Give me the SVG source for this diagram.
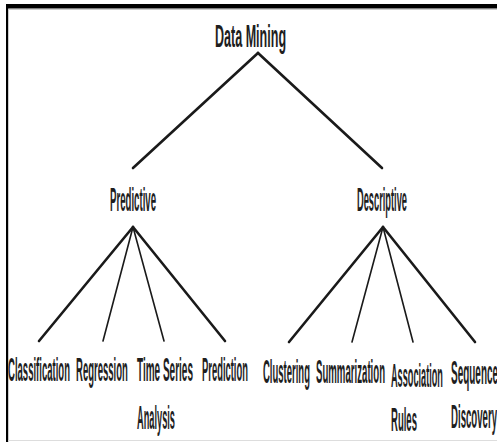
<svg xmlns="http://www.w3.org/2000/svg" width="497" height="442" viewBox="0 0 497 442">
<style>
text{font-family:"Liberation Sans",Arial,sans-serif;font-size:33px;font-weight:bold;fill:#1e1e1e}
#data-mining text{font-size:32px}
.e{stroke:#1a1a1a;fill:none;stroke-linecap:round}
.t{stroke-width:2.6}
.n{stroke-width:1.6}
</style>
<rect x="0" y="0" width="497" height="442" fill="#ffffff"/>
<g id="frame">
<rect x="6" y="4" width="491" height="4.5" fill="#000"/>
<rect x="6" y="4" width="2.2" height="438" fill="#000"/>
<line x1="8" y1="9.5" x2="497" y2="9.5" stroke="#cccccc" stroke-width="1"/>
<line x1="8" y1="440.5" x2="497" y2="440.5" stroke="#dddddd" stroke-width="1"/>
</g>
<g id="connectors">
<line class="e t" x1="258" y1="53" x2="133" y2="168"/>
<line class="e t" x1="258" y1="53" x2="382" y2="168"/>
<line class="e t" x1="133" y1="227" x2="39" y2="341"/>
<line class="e n" x1="133" y1="227" x2="103" y2="341"/>
<line class="e n" x1="133" y1="227" x2="164" y2="341"/>
<line class="e t" x1="133" y1="227" x2="225" y2="341"/>
<line class="e t" x1="383" y1="227" x2="289" y2="342"/>
<line class="e n" x1="383" y1="227" x2="352" y2="342"/>
<line class="e n" x1="383" y1="227" x2="413" y2="342"/>
<line class="e t" x1="383" y1="227" x2="475" y2="342"/>
</g>
<g id="data-mining"><text transform="translate(215,47) scale(0.392,1)">Data Mining</text></g>
<g id="predictive"><text transform="translate(110,211) scale(0.292,1)">Predictive</text></g>
<g id="descriptive"><text transform="translate(357,211) scale(0.281,1)">Descriptive</text></g>
<g id="classification"><text transform="translate(8,381) scale(0.289,1)">Classification</text></g>
<g id="regression"><text transform="translate(76,381) scale(0.289,1)">Regression</text></g>
<g id="time-series-analysis"><text transform="translate(137,381) scale(0.303,1)">Time Series</text><text transform="translate(137,429) scale(0.28,1)">Analysis</text></g>
<g id="prediction"><text transform="translate(202,381) scale(0.285,1)">Prediction</text></g>
<g id="clustering"><text transform="translate(263,383) scale(0.288,1)">Clustering</text></g>
<g id="summarization"><text transform="translate(316,383) scale(0.292,1)">Summarization</text></g>
<g id="association-rules"><text transform="translate(391,387) scale(0.278,1)">Association</text><text transform="translate(391,431) scale(0.289,1)">Rules</text></g>
<g id="sequence-discovery"><text transform="translate(451,384) scale(0.302,1)">Sequence</text><text transform="translate(451,428) scale(0.292,1)">Discovery</text></g>
</svg>
